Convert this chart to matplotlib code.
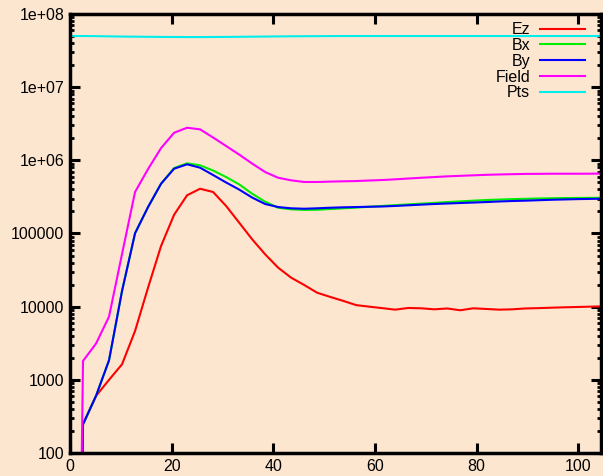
import matplotlib
matplotlib.use("Agg")
import matplotlib.pyplot as plt
from matplotlib.ticker import LogLocator, FixedLocator, NullFormatter
import numpy as np

dx = 2.56
steps = list(range(0, 42))
x = [dx * k for k in steps]

ez = [1e-10, 247, 603, 1000, 1630, 4650, 18200, 67500, 180000, 333000, 409000,
      369000, 238000, 141000, 83400, 52000, 34100, 24900, 19800, 15500, 13600,
      12000, 10500, 10000, 9550, 9100, 9600, 9500, 9200, 9450, 8930,
      9500, 9300, 9100, 9200, 9450, 9550, 9680, 9800, 9900, 10000, 10100]
bx = [1e-10, 247, 603, 1850, 16400, 100700, 230000, 479000, 785000, 910000, 855000,
      726000, 591000, 470000, 350000, 272000, 225000, 214000, 210000, 211000, 216000,
      221000, 226000, 232000, 238000, 244000, 250000, 256000, 262000, 269000, 275000,
      281000, 287000, 291000, 295000, 298000, 301000, 303000, 305000, 306000, 307000, 308000]
by = [1e-10, 247, 603, 1850, 16400, 100700, 230000, 479000, 768000, 882000, 793000,
      630000, 498000, 399000, 310000, 253000, 230000, 221000, 218000, 221000, 225000,
      228000, 230000, 232000, 234000, 238000, 243000, 248000, 253000, 257000, 261000,
      265000, 269000, 274000, 278000, 281000, 285000, 289000, 292000, 295000, 297000, 299000]
field = [1e-10, 1810, 3130, 7300, 52500, 369000, 760000, 1.47e6, 2.38e6, 2.79e6, 2.65e6,
         2.05e6, 1.57e6, 1.2e6, 904000, 692000, 578000, 533000, 506000, 506000, 512000,
         517000, 521000, 530000, 538000, 550000, 564000, 578000, 591000, 604000, 614000,
         624000, 634000, 641000, 647000, 652000, 654000, 656000, 656000, 656000, 657000, 658000]
pts = [5.0e7, 5.0e7, 4.98e7, 4.95e7, 4.92e7, 4.9e7, 4.88e7, 4.86e7, 4.85e7, 4.84e7, 4.84e7,
       4.85e7, 4.86e7, 4.88e7, 4.9e7, 4.92e7, 4.94e7, 4.96e7, 4.97e7, 4.98e7, 4.99e7,
       5.0e7, 5.0e7, 5.0e7, 5.0e7, 5.0e7, 5.0e7, 5.0e7, 5.0e7, 5.0e7, 5.0e7,
       5.0e7, 5.0e7, 5.0e7, 5.0e7, 5.0e7, 5.0e7, 5.0e7, 5.0e7, 5.0e7, 5.0e7, 5.0e7]

labels = ["Ez", "Bx", "By", "Field", "Pts"]
colors = ["#ff0000", "#00ee00", "#0000ff", "#ff00ff", "#00eeee"]
series = [ez, bx, by, field, pts]

xticks = [0, 20, 40, 60, 80, 100]
yticks = [1e2, 1e3, 1e4, 1e5, 1e6, 1e7, 1e8]
ytick_labels = ["100", "1000", "10000", "100000", "1e+06", "1e+07", "1e+08"]

bg = "#fde6d0"
plt.rcParams['font.family'] = ['Liberation Sans', 'DejaVu Sans']

fig = plt.figure(figsize=(6.03, 4.76), dpi=100, facecolor=bg)
ax = fig.add_axes([70/603, 1 - 453/476, (601 - 70)/603, (453 - 14)/476])
ax.set_facecolor(bg)

for s, lab, c in zip(series, labels, colors):
    ax.plot(x, s, color=c, lw=1.5, label=lab)

ax.set_yscale('log')
ax.set_xlim(0, 104.5)
ax.set_ylim(1e2, 1e8)

ax.xaxis.set_major_locator(FixedLocator(xticks))
ax.set_xticklabels([str(t) for t in xticks])
ax.yaxis.set_major_locator(FixedLocator(yticks))
ax.set_yticklabels(ytick_labels)
ax.yaxis.set_minor_locator(LogLocator(base=10, subs=np.arange(2, 10), numticks=20))
ax.yaxis.set_minor_formatter(NullFormatter())

ax.tick_params(axis='both', which='major', direction='in', length=7, width=2.2,
               top=True, right=True, labelsize=11.5, pad=4, colors='black')
ax.tick_params(axis='y', which='minor', direction='in', length=3, width=2.0,
               left=True, right=True)
for sp in ax.spines.values():
    sp.set_linewidth(2.5)
    sp.set_color('black')

leg = ax.legend(loc='upper right', bbox_to_anchor=(0.987, 1.003), frameon=False,
                markerfirst=False, fontsize=11.5, handlelength=2.8, handletextpad=0.6,
                labelspacing=0.05, borderaxespad=0.3, borderpad=0.3)

fig.savefig("out.png", dpi=100, facecolor=bg)
